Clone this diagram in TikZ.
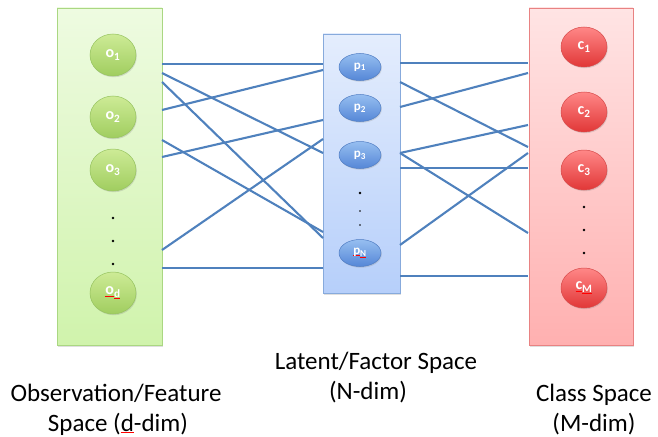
\documentclass[tikz,border=0pt]{standalone}
\usepackage{fontspec}
\setmainfont{Carlito}
\usetikzlibrary{shapes.geometric,shadows}
\definecolor{linkblue}{RGB}{79,129,189}
\newcommand\squig[2]{\begingroup\setbox0\hbox{#2}\rlap{\textcolor{red}{\rule[-2.2pt]{\wd0}{1.2pt}}}\textcolor{#1}{#2}\endgroup}
\tikzset{
  panel/.style={draw, line width=0.8pt, minimum width=#1, inner sep=0pt,
    drop shadow={opacity=0.25, shadow xshift=1.2pt, shadow yshift=-1.5pt}},
  gpanel/.style={panel=105pt, minimum height=337pt, draw={rgb,255:red,170;green,215;blue,130},
    top color={rgb,255:red,238;green,251;blue,225}, bottom color={rgb,255:red,208;green,243;blue,172}},
  bpanel/.style={panel=77pt, minimum height=259pt, draw={rgb,255:red,135;green,170;blue,220},
    top color={rgb,255:red,228;green,237;blue,253}, bottom color={rgb,255:red,182;green,207;blue,250}},
  rpanel/.style={panel=104pt, minimum height=337pt, draw={rgb,255:red,232;green,130;blue,130},
    top color={rgb,255:red,255;green,228;blue,228}, bottom color={rgb,255:red,255;green,176;blue,176}},
  unit/.style={ellipse, inner sep=0pt, line width=0.5pt, text=white, font=\bfseries,
    drop shadow={opacity=0.25, shadow xshift=0.8pt, shadow yshift=-1.2pt}},
  gnode/.style={unit, minimum width=46pt, minimum height=42pt, font=\fontsize{16}{16}\selectfont\bfseries,
    draw={rgb,255:red,150;green,195;blue,95},
    top color={rgb,255:red,205;green,235;blue,150}, bottom color={rgb,255:red,160;green,205;blue,95}},
  bnode/.style={unit, minimum width=42pt, minimum height=27pt, font=\fontsize{13}{13}\selectfont\bfseries,
    draw={rgb,255:red,80;green,125;blue,195},
    top color={rgb,255:red,150;green,190;blue,240}, bottom color={rgb,255:red,85;green,135;blue,215}},
  rnode/.style={unit, minimum width=46pt, minimum height=40pt, font=\fontsize{16}{16}\selectfont\bfseries,
    draw={rgb,255:red,215;green,75;blue,75},
    top color={rgb,255:red,255;green,135;blue,135}, bottom color={rgb,255:red,225;green,55;blue,55}},
  dotmark/.style={circle, fill=black, inner sep=0pt, minimum size=2.6pt},
  link/.style={draw=linkblue, line width=2.1pt},
  caption/.style={font=\fontsize{25}{30}\selectfont, anchor=base, inner sep=0pt},
}
\begin{document}
\begin{tikzpicture}[x=1pt, y=-1pt]
\useasboundingbox (0,0) rectangle (658,436);
% panels
\node[gpanel] (G) at (109.5,176.5) {};
\node[bpanel] (B) at (361.5,163.5) {};
\node[rpanel] (R) at (581,176.5) {};
% edge coordinates
\foreach \n/\y in {a/64,b/73,c/82,d/110,e/140,f/157,g/250,h/268} {\coordinate (L\n) at (162,\y);}
\foreach \n/\y in {a/64,b/153,c/238,d/70,e/232,f/120,g/139,h/268} {\coordinate (M\n) at (323,\y);}
\foreach \n/\y in {a/63,b/82,c/107,d/153,e/168,f/245,g/276} {\coordinate (N\n) at (400,\y);}
\foreach \n/\y in {a/63,b/147,c/73,d/125,e/233,f/168,g/153,h/276} {\coordinate (R\n) at (528,\y);}
% links left-middle
\foreach \n in {a,b,c,d,e,f,g,h} {\draw[link] (L\n) -- (M\n);}
% links middle-right
\draw[link] (Na) -- (Ra);
\draw[link] (Nb) -- (Rb);
\draw[link] (Nc) -- (Rc);
\draw[link] (Nd) -- (Rd);
\draw[link] (Nd) -- (Re);
\draw[link] (Ne) -- (Rf);
\draw[link] (Nf) -- (Rg);
\draw[link] (Ng) -- (Rh);
% green nodes
\node[gnode] (o1) at (113,55) {o\textsubscript{1}};
\node[gnode] (o2) at (113,117) {o\textsubscript{2}};
\node[gnode] (o3) at (113,170) {o\textsubscript{3}};
\node[dotmark] (gd1) at (113,218) {};
\node[dotmark] (gd2) at (113,241) {};
\node[dotmark] (gd3) at (113,264) {};
\node[gnode] (od) at (113,293) {\squig{white}{o}\textsubscript{\squig{white}{d}}};
% blue nodes
\node[bnode] (p1) at (360,67) {p\textsubscript{1}};
\node[bnode] (p2) at (360,108) {p\textsubscript{2}};
\node[bnode] (p3) at (360,155) {p\textsubscript{3}};
\node[dotmark] (bd1) at (360,193) {};
\node[dotmark, minimum size=1.8pt] (bd2) at (360,211) {};
\node[dotmark, minimum size=1.8pt] (bd3) at (360,225) {};
\node[bnode] (pN) at (360,253) {\squig{white}{p}\textsubscript{\squig{white}{N}}};
% red nodes
\node[rnode] (c1) at (584,47) {c\textsubscript{1}};
\node[rnode] (c2) at (584,112) {c\textsubscript{2}};
\node[rnode] (c3) at (584,170) {c\textsubscript{3}};
\node[dotmark] (rd1) at (584,207) {};
\node[dotmark] (rd2) at (584,230) {};
\node[dotmark] (rd3) at (584,253) {};
\node[rnode] (cM) at (584,288) {\squig{white}{c}\textsubscript{\squig{white}{M}}};
% captions
\node[caption] (t1) at (116,401) {Observation/Feature};
\node[caption] (t2) at (118,431) {Space (\squig{black}{d}-dim)};
\node[caption] (t3) at (376,369) {Latent/Factor Space};
\node[caption] (t4) at (368,399) {(N-dim)};
\node[caption] (t5) at (594,401) {Class Space};
\node[caption] (t6) at (594,431) {(M-dim)};
\end{tikzpicture}
\end{document}
